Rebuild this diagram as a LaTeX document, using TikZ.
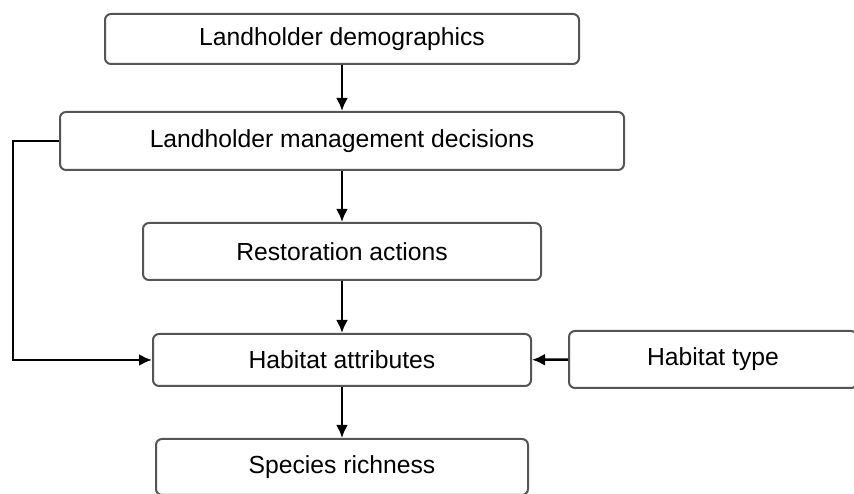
\documentclass[tikz,border=0pt]{standalone}
\usepackage{fontspec}
\setmainfont{Liberation Sans}
\usetikzlibrary{arrows.meta,positioning,calc}
\definecolor{boxGray}{RGB}{85,85,85}
\tikzset{
	fbox/.style={
		draw=boxGray,
		rounded corners=6pt,
		align=center,
		inner sep=3pt,
		line width=2pt,
		fill=white,
		font=\fontsize{24.7}{29}\selectfont
	},
	farr/.style={-{Latex[length=13pt,width=12pt]}, line width=2.5pt, black}
}
\begin{document}
\begin{tikzpicture}[x=1pt, y=1pt]
		\useasboundingbox (0,0) rectangle (854,494);
		\node[fbox, minimum width=474pt, minimum height=50pt] (demo) at (342,455) {Landholder demographics};
		\node[fbox, minimum width=564pt, minimum height=58pt] (decis) at (342,353) {Landholder management decisions};
		\node[fbox, minimum width=398pt, minimum height=57pt] (resto) at (342,242.5) {Restoration actions};
		\node[fbox, minimum width=378pt, minimum height=52pt] (attr) at (342,134) {Habitat attributes};
		\node[fbox, minimum width=288pt, minimum height=57pt] (htype) at (713,134.5) {Habitat type};
		\node[fbox, minimum width=372pt, minimum height=56pt] (rich) at (342,27) {Species richness};
		\draw[farr] (demo) -- (decis);
		\draw[farr] (decis) -- (resto);
		\draw[farr] (resto) -- (attr);
		\draw[farr] (attr) -- (rich);
		\draw[farr] (htype) -- (attr);
		\draw[farr] (decis.west) -- ++(-46,0) |- (attr.west);
	\end{tikzpicture}
\end{document}
